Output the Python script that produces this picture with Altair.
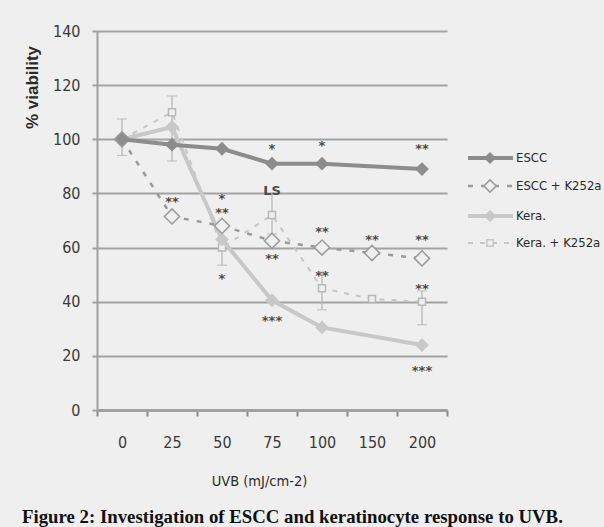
import altair as alt
import pandas as pd

doses = ["0", "25", "50", "75", "100", "150", "200"]
series_names = ["ESCC", "ESCC + K252a", "Kera.", "Kera. + K252a"]
escc = [100, 98, 96.5, 91, 91, None, 89]
escc_k252a = [100, 71.5, 68, 62.5, 60, 58, 56]
kera = [100, 104.5, 63, 40.5, 30.5, None, 24]
kera_k252a = [100, 110, 60, 72, 45, 41, 40]

err_dose = ["0", "25", "50", "75", "100", "200"]
err_lo = [94, 92, 53.5, 65, 37, 31.5]
err_hi = [107.5, 116, 66.5, 80, 51, 44]

ann_dose = ["75", "100", "200", "25", "50", "50", "75", "100", "150", "200",
            "75", "50", "100", "200", "75", "200"]
ann_val = [97.5, 98.6, 97.5, 78, 79, 74, 57, 67, 64, 64,
           82, 49.5, 50.5, 45.8, 34, 15.5]
ann_text = ["*", "*", "**", "**", "*", "**", "**", "**", "**", "**",
            "LS", "*", "**", "**", "***", "***"]

y_ticks = [0, 20, 40, 60, 80, 100, 120, 140]
caption = "Figure 2: Investigation of ESCC and keratinocyte response to UVB."

NARROW = "DejaVu Sans Condensed, Liberation Sans Narrow, sans-serif"
BG = "#efefef"

rows = []
for name, vals in zip(series_names, [escc, escc_k252a, kera, kera_k252a]):
    for d, v in zip(doses, vals):
        if v is not None:
            rows.append({"dose": d, "series": name, "value": v})
df = pd.DataFrame(rows)
err_df = pd.DataFrame({"dose": err_dose, "lo": err_lo, "hi": err_hi})
ann_df = pd.DataFrame({"dose": ann_dose, "value": ann_val, "t": ann_text})

x_enc = alt.X(
    "dose:N", sort=doses,
    scale=alt.Scale(type="band", domain=doses, paddingInner=0, paddingOuter=0),
    axis=alt.Axis(
        title="UVB (mJ/cm-2)", titleFont=NARROW, titleFontSize=14.5, titleFontWeight="normal",
        titleColor="#2a2a2a", titleX=162, titleY=71, titleAnchor="start", titleAlign="center",
        titleBaseline="middle",
        labelFont=NARROW, labelFontSize=16, labelColor="#3a3a3a", labelAngle=0, labelPadding=18,
        tickBand="extent", tickColor="#8a8a8a", tickWidth=2, tickSize=6,
        domainColor="#a0a0a0", domainWidth=3, grid=False,
    ),
)


def y_enc(field):
    return alt.Y(
        f"{field}:Q",
        scale=alt.Scale(domain=[0, 140], nice=False, zero=True),
        axis=alt.Axis(
            values=y_ticks, title="% viability", titleFont="Liberation Sans", titleFontSize=17,
            titleFontWeight="bold", titleColor="#2a2a2a", titleAngle=-90, titleX=-65, titleY=56,
            titleAlign="center", titleBaseline="middle",
            labelFont=NARROW, labelFontSize=16, labelColor="#3a3a3a", labelPadding=12,
            grid=True, gridColor="#a3a3a3", gridWidth=2,
            domainColor="#a0a0a0", domainWidth=2, tickColor="#a0a0a0", tickWidth=2, tickSize=5,
        ),
    )


def series_layers(name, color, width, dash, shape, size, filled, mstroke):
    d = df[df["series"] == name]
    base = alt.Chart(d)
    line_kw = dict(color=color, strokeWidth=width)
    if dash:
        line_kw["strokeDash"] = dash
    line = base.mark_line(**line_kw).encode(x=x_enc, y=y_enc("value"))
    if filled:
        pt = base.mark_point(shape=shape, size=size, filled=True, color=color, opacity=1)
    else:
        pt = base.mark_point(shape=shape, size=size, filled=False, fill=BG, fillOpacity=1,
                             stroke=mstroke, strokeWidth=1.5, opacity=1)
    pt = pt.encode(x=x_enc, y=y_enc("value"))
    return [line, pt]


errbars = alt.Chart(err_df).mark_rule(color="#b3b3b3", strokeWidth=1.2).encode(
    x=x_enc, y=y_enc("lo"), y2="hi:Q")
cap_lo = alt.Chart(err_df).mark_tick(color="#b3b3b3", thickness=1.2, size=10).encode(
    x=x_enc, y=y_enc("lo"))
cap_hi = alt.Chart(err_df).mark_tick(color="#b3b3b3", thickness=1.2, size=10).encode(
    x=x_enc, y=y_enc("hi"))

layers = [errbars, cap_lo, cap_hi]
layers += series_layers("Kera. + K252a", "#c6c6c6", 2, [5, 7], "square", 49, False, "#b8b8b8")
layers += series_layers("Kera.", "#c8c8c8", 4, None, "diamond", 190, True, None)
layers += series_layers("ESCC + K252a", "#9a9a9a", 2.5, [5, 8], "diamond", 230, False, "#9a9a9a")
layers += series_layers("ESCC", "#8c8c8c", 4, None, "diamond", 190, True, None)

ann = alt.Chart(ann_df).mark_text(
    font="DejaVu Sans", fontWeight="bold", fontSize=13, color="#4a4a4a", baseline="middle", dy=3
).encode(x=x_enc, y=y_enc("value"), text="t:N")
layers.append(ann)

# legend
leg_y = [127, 155, 185, 212]
leg_style = [
    dict(color="#8c8c8c", width=4, dash=None, shape="diamond", size=150, filled=True),
    dict(color="#9a9a9a", width=2.5, dash=[5, 8], shape="diamond", size=150, filled=False),
    dict(color="#c8c8c8", width=4, dash=None, shape="diamond", size=150, filled=True),
    dict(color="#c6c6c6", width=2, dash=[5, 7], shape="square", size=40, filled=False),
]
for name, yy, st in zip(series_names, leg_y, leg_style):
    ldf = pd.DataFrame({"label": [name]})
    rk = dict(color=st["color"], strokeWidth=st["width"])
    if st["dash"]:
        rk["strokeDash"] = st["dash"]
    layers.append(alt.Chart(ldf).mark_rule(**rk).encode(
        x=alt.value(371), x2=alt.value(416), y=alt.value(yy)))
    if st["filled"]:
        mp = alt.Chart(ldf).mark_point(shape=st["shape"], size=st["size"], filled=True,
                                       color=st["color"], opacity=1)
    else:
        mp = alt.Chart(ldf).mark_point(shape=st["shape"], size=st["size"], filled=False,
                                       fill=BG, fillOpacity=1, stroke=st["color"],
                                       strokeWidth=1.5, opacity=1)
    layers.append(mp.encode(x=alt.value(393), y=alt.value(yy)))
    layers.append(alt.Chart(ldf).mark_text(
        font=NARROW, fontSize=13, color="#2a2a2a", align="left", baseline="middle"
    ).encode(x=alt.value(419), y=alt.value(yy), text="label:N"))

cap_df = pd.DataFrame({"c": [caption]})
layers.append(alt.Chart(cap_df).mark_text(
    font="Liberation Serif", fontWeight="bold", fontSize=18.8, color="#111111",
    align="left", baseline="middle"
).encode(x=alt.value(-75), y=alt.value(486), text="c:N"))

chart = alt.layer(*layers).properties(
    width=350, height=379,
    autosize=alt.AutoSizeParams(type="none"),
    padding={"left": 97, "top": 31, "right": 157, "bottom": 117},
    background=BG,
).configure_view(stroke=None)

chart.save("out.html", embed_options={"renderer": "svg", "actions": False})
